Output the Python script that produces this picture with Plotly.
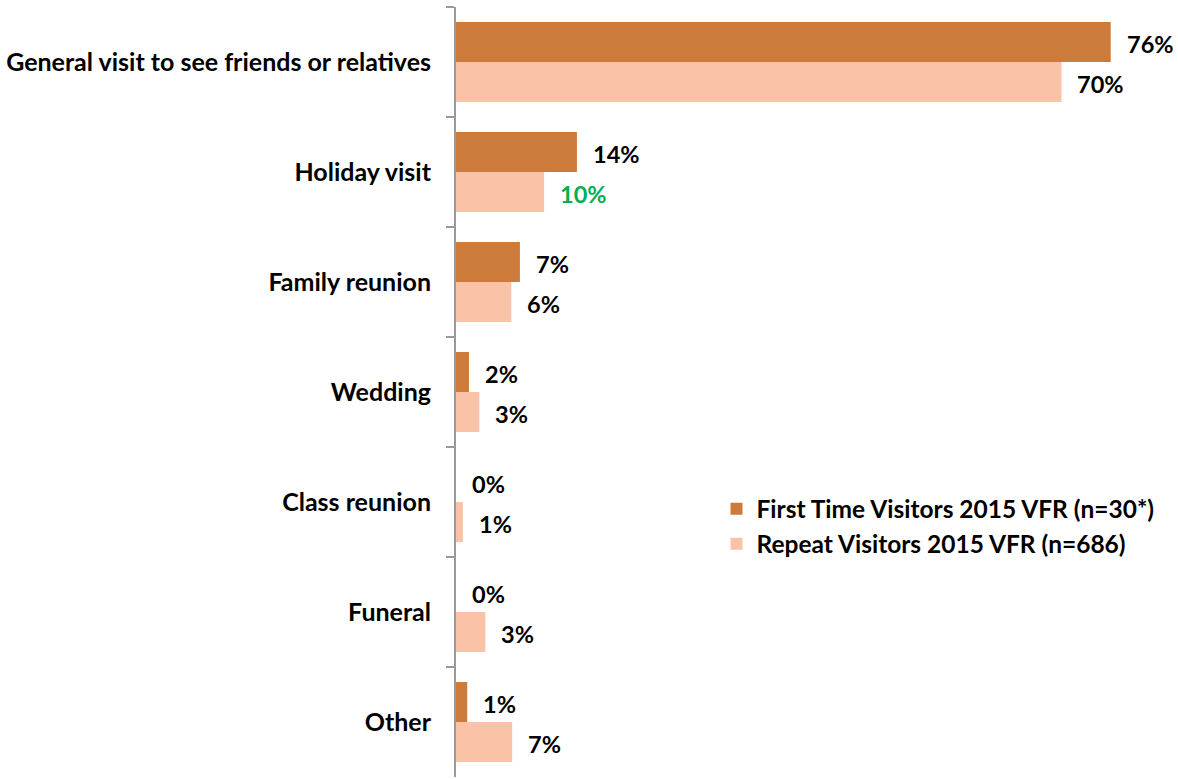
import plotly.graph_objects as go

categories = ["General visit to see friends or relatives", "Holiday visit", "Family reunion",
              "Wedding", "Class reunion", "Funeral", "Other"]
first_vals = [75.8, 14.0, 7.4, 1.5, 0.0, 0.0, 1.3]
repeat_vals = [70.1, 10.2, 6.4, 2.7, 0.8, 3.4, 6.5]
first_labels = ["76%", "14%", "7%", "2%", "0%", "0%", "1%"]
repeat_labels = ["70%", "10%", "6%", "3%", "1%", "3%", "7%"]
series_names = ["First Time Visitors 2015 VFR (n=30*)", "Repeat Visitors 2015 VFR (n=686)"]

C_FIRST = "#CD7B3A"
C_REPEAT = "#FAC3A7"
FONT = "Lato"
FS = 25
FS_VAL = 23.5

fig = go.Figure()
fig.add_trace(go.Bar(y=categories, x=first_vals, orientation="h", name=series_names[0],
                     marker=dict(color=C_FIRST, line=dict(width=0))))
fig.add_trace(go.Bar(y=categories, x=repeat_vals, orientation="h", name=series_names[1],
                     marker=dict(color=C_REPEAT, line=dict(width=0))))

ann = []
for cat, v, lab in zip(categories, first_vals, first_labels):
    ann.append(dict(x=v, y=cat, text=f"<b>{lab}</b>", xanchor="left", yanchor="middle",
                    xshift=14, yshift=18, showarrow=False,
                    font=dict(family=FONT, size=FS_VAL, color="black")))
for cat, v, lab in zip(categories, repeat_vals, repeat_labels):
    col = "#00B050" if lab == "10%" else "black"
    ann.append(dict(x=v, y=cat, text=f"<b>{lab}</b>", xanchor="left", yanchor="middle",
                    xshift=14, yshift=-22, showarrow=False,
                    font=dict(family=FONT, size=FS_VAL, color=col)))

fig.update_layout(
    width=1178, height=779,
    margin=dict(l=456, r=31, t=7, b=2),
    barmode="group", bargap=0.273, bargroupgap=0,
    plot_bgcolor="white", paper_bgcolor="white",
    font=dict(family=FONT, size=FS, color="black"),
    annotations=ann,
    showlegend=True,
    legend=dict(x=0.377, y=0.3255, xanchor="left", yanchor="middle",
                font=dict(family=FONT, size=24.5, color="black", weight="bold"),
                bgcolor="rgba(0,0,0,0)", tracegroupgap=0),
    xaxis=dict(range=[0, 80], showgrid=False, showticklabels=False, zeroline=False,
               showline=False, ticks="", automargin=False),
    yaxis=dict(autorange="reversed", showline=True, linecolor="#999999", linewidth=2,
               ticks="outside", tickson="boundaries", ticklen=8, tickcolor="#999999",
               tickwidth=2, showgrid=False, ticklabelstandoff=18, automargin=False,
               tickfont=dict(family=FONT, size=FS, color="black", weight="bold")),
)

fig.write_html("out.html", config={"displayModeBar": False},
               post_script="document.body.style.margin='0';document.body.style.overflow='hidden';")
